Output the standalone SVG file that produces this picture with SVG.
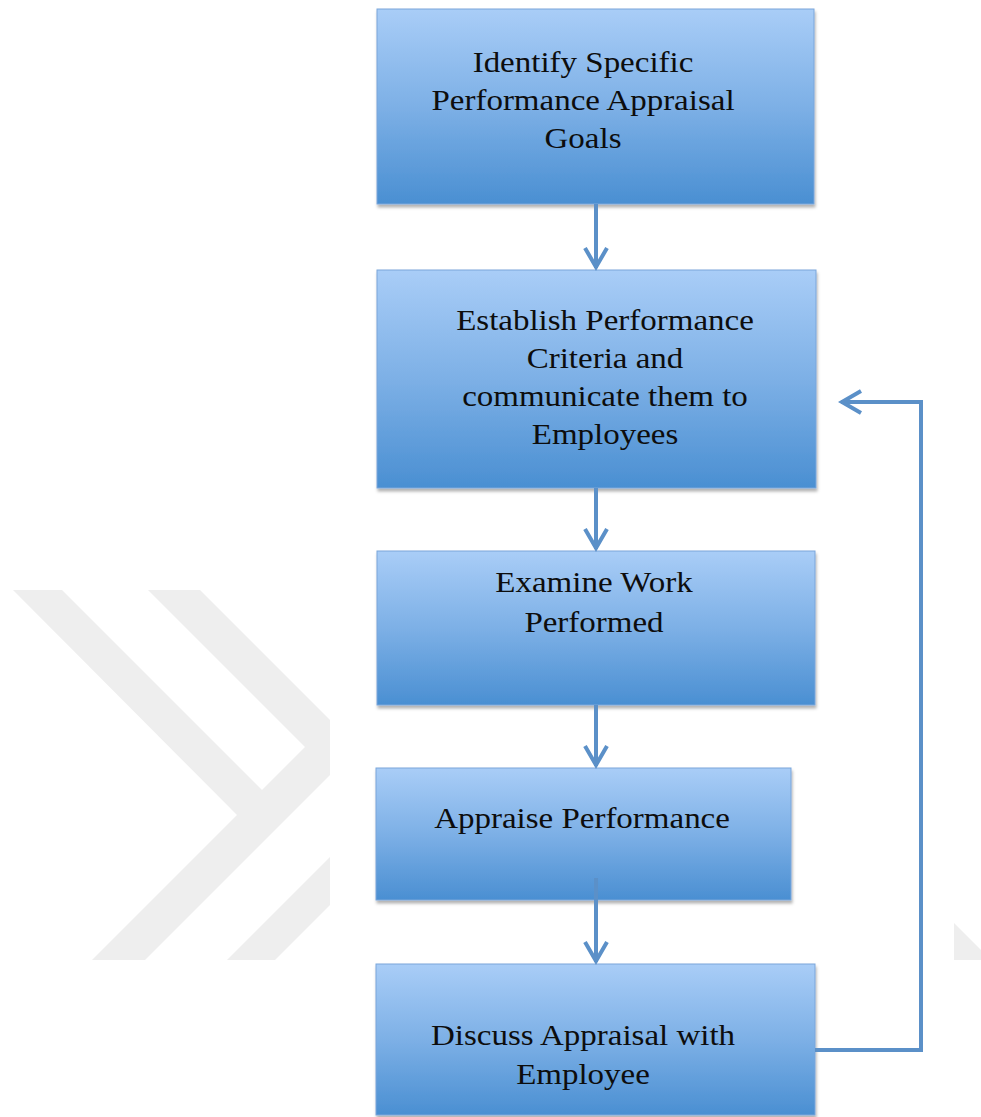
<svg xmlns="http://www.w3.org/2000/svg" width="981" height="1117" viewBox="0 0 981 1117">
<style>
.box{fill:url(#g);stroke:#7aa6da;stroke-width:1;filter:url(#sh)}
.t{font-family:"Liberation Serif","Times New Roman",serif;font-size:30px;fill:#0d0d0d;text-anchor:middle}
.c{fill:none;stroke:#5b90c8;stroke-width:4;stroke-linejoin:miter}
.wm{fill:#eeeeee}
</style>
<defs>
<linearGradient id="g" x1="0" y1="0" x2="0" y2="1">
<stop offset="0" stop-color="#a9cdf7"/>
<stop offset="0.5" stop-color="#7db0e6"/>
<stop offset="1" stop-color="#4a8fd2"/>
</linearGradient>
<filter id="sh" x="-5%" y="-5%" width="110%" height="115%">
<feDropShadow dx="1" dy="3" stdDeviation="1.5" flood-color="#000" flood-opacity="0.3"/>
</filter>
<marker id="ah" markerUnits="userSpaceOnUse" markerWidth="30" markerHeight="30" viewBox="-24 -15 30 30" refX="0" refY="0" orient="auto">
<path d="M-20,-11 L-1,0 L-20,11" fill="none" stroke="#5b90c8" stroke-width="4"/>
</marker>
<clipPath id="wmc">
<rect x="0" y="590" width="330" height="370"/>
<rect x="954" y="590" width="27" height="370"/>
</clipPath>
</defs>
<rect width="981" height="1117" fill="#ffffff"/>
<g id="watermark" clip-path="url(#wmc)">
<polygon class="wm" points="13,590 62,590 263,791 237.5,815.5"/>
<polygon class="wm" points="92,960 145,960 600,505 547,505"/>
<polygon class="wm" points="148,590 200,590 420,810 368,810"/>
<polygon class="wm" points="227,960 275,960 700,535 652,535"/>
<polygon class="wm" points="954,923 1000,969 954,969"/>
</g>
<g id="n1">
<rect class="box" x="377" y="9" width="437" height="195"/>
<text class="t" transform="translate(583,72) scale(1.1,1)">Identify Specific</text>
<text class="t" transform="translate(583,110) scale(1.1,1)">Performance Appraisal</text>
<text class="t" transform="translate(583,148) scale(1.1,1)">Goals</text>
</g>
<g id="n2">
<rect class="box" x="377" y="270" width="439" height="218"/>
<text class="t" transform="translate(605,330) scale(1.1,1)">Establish Performance</text>
<text class="t" transform="translate(605,368) scale(1.1,1)">Criteria and</text>
<text class="t" transform="translate(605,406) scale(1.1,1)">communicate them to</text>
<text class="t" transform="translate(605,444) scale(1.1,1)">Employees</text>
</g>
<g id="n3">
<rect class="box" x="377" y="551" width="438" height="154"/>
<text class="t" transform="translate(594,592) scale(1.1,1)">Examine Work</text>
<text class="t" transform="translate(594,632) scale(1.1,1)">Performed</text>
</g>
<g id="n4">
<rect class="box" x="376" y="768" width="415" height="132"/>
<text class="t" transform="translate(582,828) scale(1.1,1)">Appraise Performance</text>
</g>
<g id="n5">
<rect class="box" x="376" y="964" width="439" height="151"/>
<text class="t" transform="translate(583,1045) scale(1.1,1)">Discuss Appraisal with</text>
<text class="t" transform="translate(583,1084) scale(1.1,1)">Employee</text>
</g>
<g id="connectors">
<path class="c" d="M596,204 L596,268" marker-end="url(#ah)"/>
<path class="c" d="M596,488 L596,549" marker-end="url(#ah)"/>
<path class="c" d="M596,705 L596,766" marker-end="url(#ah)"/>
<path class="c" d="M596,878 L596,962" marker-end="url(#ah)"/>
<path class="c" d="M815,1050 L921,1050 L921,402 L841,402" marker-end="url(#ah)"/>
</g>
</svg>
